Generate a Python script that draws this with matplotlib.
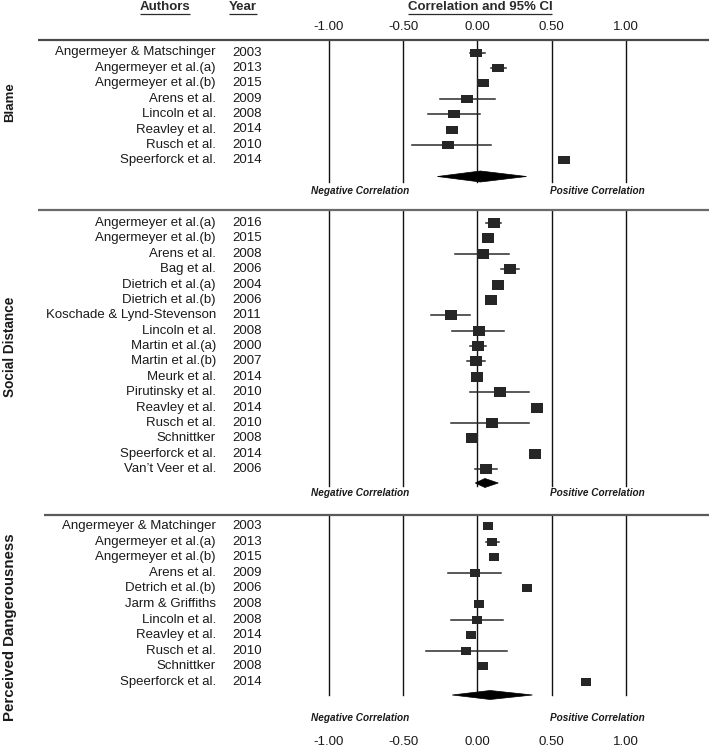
import matplotlib
matplotlib.use("Agg")
import matplotlib.pyplot as plt
from matplotlib.patches import Polygon
import numpy as np

plt.rcParams['font.family'] = ['Liberation Sans', 'DejaVu Sans']

# ---------------- data ----------------
tick_values = [-1.0, -0.5, 0.0, 0.5, 1.0]
tick_labels = ["-1.00", "-0.50", "0.00", "0.50", "1.00"]

section_names = ["Blame", "Social Distance", "Perceived Dangerousness"]

blame_authors = ["Angermeyer & Matschinger", "Angermeyer et al.(a)", "Angermeyer et al.(b)",
                 "Arens et al.", "Lincoln et al.", "Reavley et al.", "Rusch et al.", "Speerforck et al."]
blame_years = ["2003", "2013", "2015", "2009", "2008", "2014", "2010", "2014"]
blame_r = [-0.01, 0.14, 0.04, -0.07, -0.16, -0.17, -0.20, 0.58]
blame_lo = [-0.05, 0.09, 0.03, -0.25, -0.33, -0.18, -0.44, 0.57]
blame_hi = [0.05, 0.19, 0.05, 0.12, 0.02, -0.16, 0.09, 0.59]
blame_pooled = [-0.27, 0.02, 0.33]

social_authors = ["Angermeyer et al.(a)", "Angermeyer et al.(b)", "Arens et al.", "Bag et al.",
                  "Dietrich et al.(a)", "Dietrich et al.(b)", "Koschade & Lynd-Stevenson",
                  "Lincoln et al.", "Martin et al.(a)", "Martin et al.(b)", "Meurk et al.",
                  "Pirutinsky et al.", "Reavley et al.", "Rusch et al.", "Schnittker",
                  "Speerforck et al.", "Van\u2019t Veer et al."]
social_years = ["2016", "2015", "2008", "2006", "2004", "2006", "2011", "2008", "2000",
                "2007", "2014", "2010", "2014", "2010", "2008", "2014", "2006"]
social_r = [0.11, 0.07, 0.04, 0.22, 0.14, 0.09, -0.18, 0.01, 0.005, -0.01, -0.005,
            0.15, 0.40, 0.10, -0.04, 0.39, 0.06]
social_lo = [0.055, 0.06, -0.15, 0.16, 0.13, 0.08, -0.31, -0.17, -0.05, -0.07, -0.015,
             -0.05, 0.39, -0.18, -0.05, 0.38, -0.02]
social_hi = [0.16, 0.08, 0.21, 0.28, 0.15, 0.10, -0.05, 0.18, 0.06, 0.05, 0.005,
             0.35, 0.41, 0.35, -0.03, 0.40, 0.13]
social_pooled = [-0.015, 0.05, 0.14]

danger_authors = ["Angermeyer & Matchinger", "Angermeyer et al.(a)", "Angermeyer et al.(b)",
                  "Arens et al.", "Detrich et al.(b)", "Jarm & Griffiths", "Lincoln et al.",
                  "Reavley et al.", "Rusch et al.", "Schnittker", "Speerforck et al."]
danger_years = ["2003", "2013", "2015", "2009", "2006", "2008", "2008", "2014", "2010",
                "2008", "2014"]
danger_r = [0.07, 0.10, 0.11, -0.02, 0.33, 0.01, -0.005, -0.045, -0.08, 0.04, 0.73]
danger_lo = [0.06, 0.055, 0.10, -0.20, 0.32, 0.0, -0.18, -0.055, -0.35, 0.03, 0.72]
danger_hi = [0.08, 0.145, 0.12, 0.16, 0.34, 0.02, 0.17, -0.035, 0.20, 0.05, 0.74]
danger_pooled = [-0.17, 0.085, 0.37]

# ---------------- layout (pixel based) ----------------
W, H = 709, 749
X0_PX, UNIT_PX = 477.5, 148.5

def px2v(px):
    return (px - X0_PX) / UNIT_PX

fig = plt.figure(figsize=(W / 100, H / 100), dpi=100)
ax = fig.add_axes([0, 0, 1, 1])
ax.set_xlim(px2v(0), px2v(W))
ax.set_ylim(H, 0)
ax.axis('off')

sections = [
    dict(name=section_names[0], authors=blame_authors, years=blame_years, r=blame_r,
         lo=blame_lo, hi=blame_hi, pooled=blame_pooled,
         top=40, first=52.5, step=15.4, diamond_y=176.5, dh=5.5, vline_end=182,
         label_y=191, name_y=102, name_fs=9.5, msize=8.2),
    dict(name=section_names[1], authors=social_authors, years=social_years, r=social_r,
         lo=social_lo, hi=social_hi, pooled=social_pooled,
         top=210, first=223, step=15.38, diamond_y=483, dh=4.5, vline_end=486,
         label_y=493, name_y=347, name_fs=9.8, msize=8.8),
    dict(name=section_names[2], authors=danger_authors, years=danger_years, r=danger_r,
         lo=danger_lo, hi=danger_hi, pooled=danger_pooled,
         top=515, first=526, step=15.6, diamond_y=695, dh=4.5, vline_end=695,
         label_y=718, name_y=627, name_fs=10.8, msize=7.8),
]

sep_start = [38, 38, 44]
sep_colors = ['#4a4a4a', '#6a6a6a', '#5a5a5a']

# rectangular marker (slightly wider than tall)
rect_marker = [(-0.6, -0.47), (0.6, -0.47), (0.6, 0.47), (-0.6, 0.47), (-0.6, -0.47)]

text_fs = 9.5
for k, s in enumerate(sections):
    n = len(s['r'])
    ys = s['first'] + np.arange(n) * s['step']
    ax.plot([px2v(sep_start[k]), px2v(W)], [s['top'], s['top']], color=sep_colors[k],
            lw=1.6, solid_capstyle='butt', zorder=2)
    for tv in tick_values:
        ax.plot([tv, tv], [s['top'], s['vline_end']], color='#111111', lw=1.0, zorder=1)
    for i in range(n):
        ax.plot([s['lo'][i], s['hi'][i]], [ys[i], ys[i]], color='#2b2b2b', lw=1.1, zorder=3)
        ax.plot([s['r'][i]], [ys[i]], marker=rect_marker, markersize=s['msize'],
                color='#262626', markeredgewidth=0, zorder=4)
        ax.text(px2v(216), ys[i], s['authors'][i], ha='right', va='center',
                fontsize=text_fs, color='#1a1a1a')
        ax.text(px2v(232), ys[i], s['years'][i], ha='left', va='center',
                fontsize=text_fs, color='#1a1a1a')
    lo, c, hi = s['pooled']
    dy = s['diamond_y']
    ax.add_patch(Polygon([(lo, dy), (c, dy - s['dh']), (hi, dy), (c, dy + s['dh'])],
                         closed=True, facecolor='black', edgecolor='black', lw=0.5, zorder=5))
    ax.text(px2v(360), s['label_y'], "Negative Correlation", ha='center', va='center',
            fontsize=7.2, fontweight='bold', fontstyle='italic', color='#1a1a1a')
    ax.text(px2v(597), s['label_y'], "Positive Correlation", ha='center', va='center',
            fontsize=7.2, fontweight='bold', fontstyle='italic', color='#1a1a1a')
    ax.text(px2v(10.5), s['name_y'], s['name'], rotation=90, ha='center', va='center',
            fontsize=s['name_fs'], fontweight='bold', color='#1a1a1a',
            family=['Liberation Sans Narrow', 'Liberation Sans', 'DejaVu Sans'])

for tv, tl in zip(tick_values, tick_labels):
    ax.text(tv, 27, tl, ha='center', va='center', fontsize=text_fs, color='#1a1a1a')
    ax.text(tv, 742, tl, ha='center', va='center', fontsize=text_fs, color='#1a1a1a')

headers = [("Authors", 165), ("Year", 243), ("Correlation and 95% CI", 480)]
hdr_texts = []
for label, xp in headers:
    t = ax.text(px2v(xp), 7, label, ha='center', va='center', fontsize=9.5,
                fontweight='bold', color='#2a2a2a')
    hdr_texts.append(t)

fig.canvas.draw()
renderer = fig.canvas.get_renderer()
inv = ax.transData.inverted()
for t in hdr_texts:
    bb = t.get_window_extent(renderer)
    (x0, _), (x1, _) = inv.transform([(bb.x0, 0), (bb.x1, 0)])
    ax.plot([x0, x1], [13.5, 13.5], color='#2a2a2a', lw=0.9, solid_capstyle='butt')

fig.savefig("out.png", dpi=100, facecolor='white')
